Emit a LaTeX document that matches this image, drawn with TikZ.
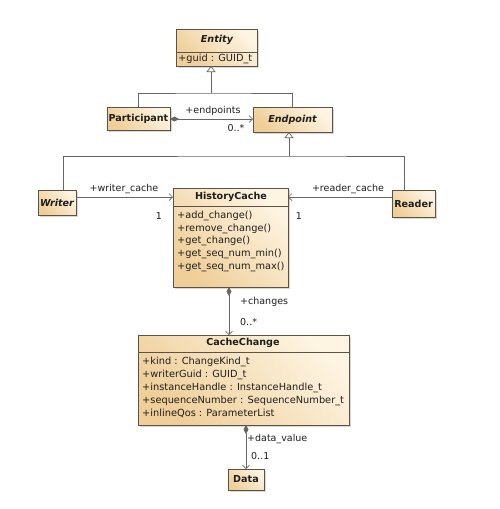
\documentclass[tikz,border=0pt]{standalone}
\usepackage{fontspec}
\setmainfont{DejaVu Sans}
\usetikzlibrary{arrows.meta,shadows}
\definecolor{boxlight}{HTML}{FDF4E2}
\definecolor{boxdark}{HTML}{EFCE98}
\definecolor{boxborder}{HTML}{5C5246}
\definecolor{linegrey}{HTML}{666666}
\definecolor{txt}{HTML}{1E1E1E}
\begin{document}
\begin{tikzpicture}[x=1pt,y=-1pt,
  umlbox/.style={draw=boxborder, line width=0.8pt, top color=boxlight, bottom color=boxdark,
    shading angle=-45, drop shadow={shadow xshift=2pt, shadow yshift=-2pt, opacity=0.3},
    inner sep=0pt, outer sep=0pt, text=txt, font=\fontsize{9.6}{11}\selectfont\bfseries},
  divider/.style={draw=boxborder, line width=0.8pt},
  header/.style={inner sep=0pt, text=txt, font=\fontsize{9.6}{11}\selectfont\bfseries},
  member/.style={anchor=west, inner sep=0pt, text=txt, text height=7pt, text depth=2pt,
    font=\fontsize{9.8}{12}\selectfont},
  lbl/.style={inner sep=0pt, text=txt, font=\fontsize{9.5}{11}\selectfont},
  conn/.style={draw=linegrey, line width=0.7pt},
  gen/.style={conn, -{Triangle[open, length=6pt, width=9pt]}},
  nav/.style={conn, -{Straight Barb[length=3.5pt, width=7pt]}},
  comp/.style={conn, {Diamond[length=9pt, width=5pt, fill=linegrey]}-{Straight Barb[length=3.5pt, width=7pt]}}
]
\fill[white] (0,0) rectangle (500,509);
\useasboundingbox (0,0) rectangle (500,509);

% Entity
\node[umlbox, minimum width=81pt, minimum height=37pt] (entity) at (216.5,47.5) {};
\draw[divider] (entity.west |- 0,52) -- (entity.east |- 0,52);
\node[header, font=\fontsize{9.6}{11}\selectfont\bfseries\itshape] (entityname) at (217,40) {Entity};
\node[member] (entityattr) at (178,59) {+guid : GUID\_t};

% Participant and Endpoint
\node[umlbox, minimum width=63pt, minimum height=23pt] (part) at (138.5,118.5) {Participant};
\node[umlbox, minimum width=79pt, minimum height=25pt, font=\fontsize{9.6}{11}\selectfont\bfseries\itshape] (endp) at (292.5,119.5) {Endpoint};

% Writer and Reader
\node[umlbox, minimum width=38pt, minimum height=25pt, font=\fontsize{9.6}{11}\selectfont\bfseries\itshape] (writer) at (57,202.5) {Writer};
\node[umlbox, minimum width=43pt, minimum height=27pt] (reader) at (413.5,203.5) {Reader};

% HistoryCache
\node[umlbox, minimum width=115pt, minimum height=99pt] (hc) at (230.5,237.5) {};
\draw[divider] (hc.west |- 0,206) -- (hc.east |- 0,206);
\node[header] (hcname) at (231,197) {HistoryCache};
\foreach \m [count=\i from 0] in {+add\_change(), +remove\_change(), +get\_change(), +get\_seq\_num\_min(), +get\_seq\_num\_max()}
  \node[member] (hcm\i) at (177,{216+12.7*\i}) {\m};

% CacheChange
\node[umlbox, minimum width=211pt, minimum height=90pt] (cc) at (243.5,380) {};
\draw[divider] (cc.west |- 0,352) -- (cc.east |- 0,352);
\node[header] (ccname) at (243,343) {CacheChange};
\foreach \m [count=\i from 0] in {+kind : ChangeKind\_t, +writerGuid : GUID\_t, +instanceHandle : InstanceHandle\_t, +sequenceNumber : SequenceNumber\_t, +inlineQos : ParameterList}
  \node[member] (ccm\i) at (142,{362+13*\i}) {\m};

% Data
\node[umlbox, minimum width=36pt, minimum height=21pt] (data) at (246,479.5) {Data};

% Generalization to Entity
\coordinate (g1) at (211,93);
\draw[conn] (part.north) |- (g1) -| (endp.north);
\draw[gen] (g1) -- (g1 |- entity.south);

% Generalization to Endpoint
\coordinate (g2) at (289,156);
\draw[conn] ([xshift=6pt]writer.north) |- (g2) -| ([xshift=-9.5pt]reader.north);
\draw[gen] (g2) -- (g2 |- endp.south);

% Participant -> Endpoint
\draw[comp] (part.east |- 0,119) -- (endp.west |- 0,119);
\node[lbl] (lendp) at (213,111) {+endpoints};
\node[lbl] (lendpm) at (236,128) {0..*};

% Writer -> HistoryCache
\draw[nav] (writer.east |- 0,197) -- (hc.west |- 0,197);
\node[lbl] (lwc) at (124,189) {+writer\_cache};
\node[lbl] (lwcm) at (159,216) {1};

% Reader -> HistoryCache
\draw[nav] (reader.west |- 0,197) -- (hc.east |- 0,197);
\node[lbl] (lrc) at (348,189) {+reader\_cache};
\node[lbl] (lrcm) at (299,216) {1};

% HistoryCache -> CacheChange
\draw[comp] (hc.south -| 229,0) -- (cc.north -| 229,0);
\node[lbl, anchor=west] (lch) at (240,302) {+changes};
\node[lbl, anchor=west] (lchm) at (240,322) {0..*};

% CacheChange -> Data
\draw[comp] (cc.south -| data.north) -- (data.north);
\node[lbl, anchor=west] (ldv) at (247,439) {+data\_value};
\node[lbl, anchor=west] (ldvm) at (251,456) {0..1};
\end{tikzpicture}
\end{document}
